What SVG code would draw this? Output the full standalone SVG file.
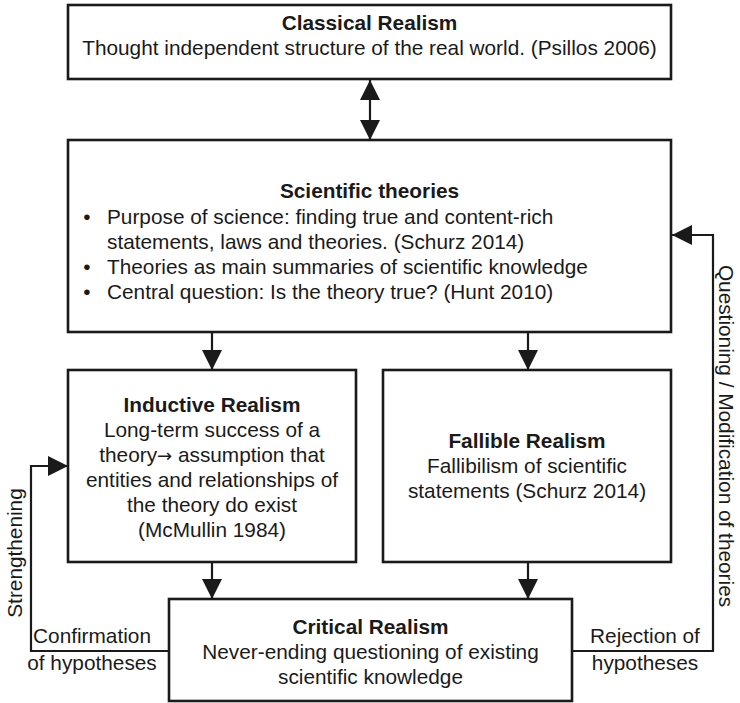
<svg xmlns="http://www.w3.org/2000/svg" width="740" height="703" viewBox="0 0 740 703">
  <style>
    .box { fill: #ffffff; stroke: #1a1a1a; stroke-width: 2.6; }
    .t { font-family: "Liberation Sans", Arial, sans-serif; font-size: 20.8px; fill: #1a1a1a; }
    .c { text-anchor: middle; }
    .b { font-weight: bold; }
    .arr { font-family: "DejaVu Sans", sans-serif; font-size: 18px; }
    .ln { fill: none; stroke: #1a1a1a; stroke-width: 2.2; }
  </style>
  <defs>
    <marker id="ah" viewBox="0 0 20 20" refX="20" refY="10" markerWidth="20" markerHeight="20" markerUnits="userSpaceOnUse" orient="auto-start-reverse">
      <path d="M0,0 L20,10 L0,20 Z" fill="#1a1a1a"/>
    </marker>
  </defs>
  <rect width="740" height="703" fill="#ffffff"/>

  <g id="classical-realism">
    <rect class="box" x="68" y="5" width="603" height="74"/>
    <text class="t c b" x="369.5" y="30">Classical Realism</text>
    <text class="t c" x="369.5" y="55">Thought independent structure of the real world. (Psillos 2006)</text>
  </g>

  <g id="scientific-theories">
    <rect class="box" x="68" y="140" width="603" height="192"/>
    <text class="t c b" x="369.5" y="198">Scientific theories</text>
    <text class="t c" x="87" y="224">•</text>
    <text class="t" x="107" y="224">Purpose of science: finding true and content-rich</text>
    <text class="t" x="107" y="249">statements, laws and theories. (Schurz 2014)</text>
    <text class="t c" x="87" y="274">•</text>
    <text class="t" x="107" y="274">Theories as main summaries of scientific knowledge</text>
    <text class="t c" x="87" y="299">•</text>
    <text class="t" x="107" y="299">Central question: Is the theory true? (Hunt 2010)</text>
  </g>

  <g id="inductive-realism">
    <rect class="box" x="68" y="370" width="288" height="192"/>
    <text class="t c b" x="212" y="412">Inductive Realism</text>
    <text class="t c" x="212" y="437">Long-term success of a</text>
    <text class="t c" x="212" y="462">theory<tspan class="arr">→</tspan> assumption that</text>
    <text class="t c" x="212" y="487">entities and relationships of</text>
    <text class="t c" x="212" y="512">the theory do exist</text>
    <text class="t c" x="212" y="537">(McMullin 1984)</text>
  </g>

  <g id="fallible-realism">
    <rect class="box" x="383" y="370" width="288" height="192"/>
    <text class="t c b" x="527" y="448">Fallible Realism</text>
    <text class="t c" x="527" y="473">Fallibilism of scientific</text>
    <text class="t c" x="527" y="498">statements (Schurz 2014)</text>
  </g>

  <g id="critical-realism">
    <rect class="box" x="169" y="599" width="403" height="102"/>
    <text class="t c b" x="370.5" y="634">Critical Realism</text>
    <text class="t c" x="370.5" y="659">Never-ending questioning of existing</text>
    <text class="t c" x="370.5" y="684">scientific knowledge</text>
  </g>

  <g id="connectors">
    <!-- classical realism <-> scientific theories -->
    <line class="ln" x1="370" y1="80" x2="370" y2="140" marker-start="url(#ah)" marker-end="url(#ah)"/>
    <!-- scientific theories -> inductive / fallible -->
    <line class="ln" x1="212" y1="332" x2="212" y2="370" marker-end="url(#ah)"/>
    <line class="ln" x1="528" y1="332" x2="528" y2="370" marker-end="url(#ah)"/>
    <!-- inductive / fallible -> critical -->
    <line class="ln" x1="212" y1="562" x2="212" y2="599" marker-end="url(#ah)"/>
    <line class="ln" x1="528" y1="562" x2="528" y2="599" marker-end="url(#ah)"/>
    <!-- feedback loops -->
    <polyline class="ln" points="169,651 31,651 31,466 68,466" marker-end="url(#ah)"/>
    <polyline class="ln" points="572,651 713,651 713,235 672,235" marker-end="url(#ah)"/>

    <text class="t c" x="92" y="643">Confirmation</text>
    <text class="t c" x="92" y="670">of hypotheses</text>
    <text class="t c" x="645" y="643">Rejection of</text>
    <text class="t c" x="645" y="670">hypotheses</text>
    <text class="t c" transform="translate(22,553) rotate(-90)">Strengthening</text>
    <text class="t c" transform="translate(719,436) rotate(90)">Questioning / Modification of theories</text>
  </g>
</svg>
